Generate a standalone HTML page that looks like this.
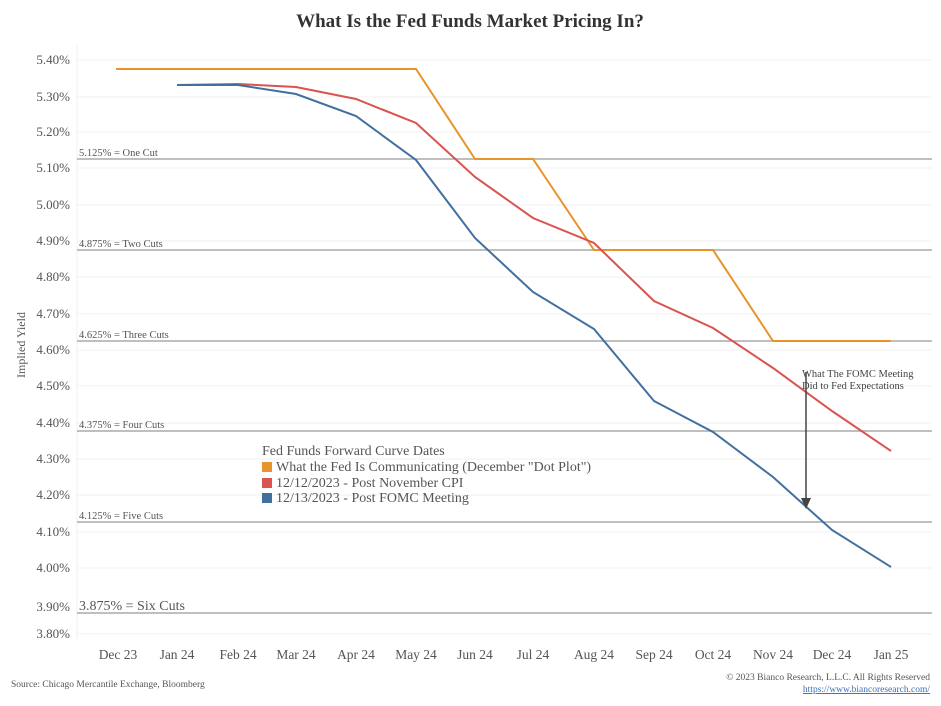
<!DOCTYPE html>
<html><head><meta charset="utf-8"><style>
html,body{margin:0;padding:0;background:#fff;}
svg{display:block;font-family:"Liberation Serif",serif;}
</style></head><body>
<svg width="941" height="706" viewBox="0 0 941 706" xmlns="http://www.w3.org/2000/svg">
<rect width="941" height="706" fill="#fff"/>
<text x="470" y="27" text-anchor="middle" font-size="19" font-weight="bold" fill="#333">What Is the Fed Funds Market Pricing In?</text>
<g stroke="#f0f0f0" stroke-width="1">
<line x1="77" x2="932" y1="60" y2="60"/><line x1="77" x2="932" y1="97" y2="97"/><line x1="77" x2="932" y1="132" y2="132"/><line x1="77" x2="932" y1="168" y2="168"/><line x1="77" x2="932" y1="205" y2="205"/><line x1="77" x2="932" y1="241" y2="241"/><line x1="77" x2="932" y1="277" y2="277"/><line x1="77" x2="932" y1="314" y2="314"/><line x1="77" x2="932" y1="350" y2="350"/><line x1="77" x2="932" y1="386" y2="386"/><line x1="77" x2="932" y1="423" y2="423"/><line x1="77" x2="932" y1="459" y2="459"/><line x1="77" x2="932" y1="495" y2="495"/><line x1="77" x2="932" y1="532" y2="532"/><line x1="77" x2="932" y1="568" y2="568"/><line x1="77" x2="932" y1="634" y2="634"/>
<line x1="77" x2="77" y1="45" y2="640"/>
</g>
<g font-size="13" fill="#555" text-anchor="end">
<text x="70" y="64">5.40%</text><text x="70" y="101">5.30%</text><text x="70" y="136">5.20%</text><text x="70" y="172">5.10%</text><text x="70" y="209">5.00%</text><text x="70" y="245">4.90%</text><text x="70" y="281">4.80%</text><text x="70" y="318">4.70%</text><text x="70" y="354">4.60%</text><text x="70" y="390">4.50%</text><text x="70" y="427">4.40%</text><text x="70" y="463">4.30%</text><text x="70" y="499">4.20%</text><text x="70" y="536">4.10%</text><text x="70" y="572">4.00%</text><text x="70" y="611">3.90%</text><text x="70" y="638">3.80%</text>
</g>
<text transform="translate(25,345) rotate(-90)" text-anchor="middle" font-size="12" fill="#555">Implied Yield</text>
<g stroke="#aaa" stroke-width="1.5">
<line x1="77" x2="932" y1="159" y2="159"/><line x1="77" x2="932" y1="250" y2="250"/><line x1="77" x2="932" y1="341" y2="341"/><line x1="77" x2="932" y1="431" y2="431"/><line x1="77" x2="932" y1="522" y2="522"/><line x1="77" x2="932" y1="613" y2="613"/>
</g>
<g font-size="10.5" fill="#555">
<text x="79" y="156">5.125% = One Cut</text><text x="79" y="247">4.875% = Two Cuts</text><text x="79" y="338">4.625% = Three Cuts</text><text x="79" y="428">4.375% = Four Cuts</text><text x="79" y="519">4.125% = Five Cuts</text>
<text x="79" y="610" font-size="14">3.875% = Six Cuts</text>
</g>
<polyline fill="none" stroke="#e8942a" stroke-width="2" points="116,69 416,69 475,159 533,159 594,250 713,250 773,341 891,341"/>
<polyline fill="none" stroke="#d9534f" stroke-width="2" points="177,85 238,84 296,87 356,99 416,123 475,177 533,218 594,243 654,301 713,328 773,368 832,411 891,451"/>
<polyline fill="none" stroke="#41709f" stroke-width="2" points="177,85 238,85 296,94 356,116 416,160 475,238 533,292 594,329 654,401 713,432 773,477 832,530 891,567"/>
<line x1="806" y1="372" x2="806" y2="500" stroke="#444" stroke-width="1.5"/>
<polygon points="801,498 811,498 806,509" fill="#444"/>
<g font-size="10.5" fill="#444"><text x="802" y="377">What The FOMC Meeting</text><text x="802" y="389">Did to Fed Expectations</text></g>
<g font-size="14" fill="#555">
<text x="262" y="455">Fed Funds Forward Curve Dates</text>
<rect x="262" y="462" width="10" height="10" fill="#e8942a"/><text x="276" y="471">What the Fed Is Communicating (December "Dot Plot")</text>
<rect x="262" y="478" width="10" height="10" fill="#d9534f"/><text x="276" y="487">12/12/2023 - Post November CPI</text>
<rect x="262" y="493" width="10" height="10" fill="#41709f"/><text x="276" y="502">12/13/2023 - Post FOMC Meeting</text>
</g>
<g font-size="13.5" fill="#555" text-anchor="middle">
<text x="118" y="659">Dec 23</text><text x="177" y="659">Jan 24</text><text x="238" y="659">Feb 24</text><text x="296" y="659">Mar 24</text><text x="356" y="659">Apr 24</text><text x="416" y="659">May 24</text><text x="475" y="659">Jun 24</text><text x="533" y="659">Jul 24</text><text x="594" y="659">Aug 24</text><text x="654" y="659">Sep 24</text><text x="713" y="659">Oct 24</text><text x="773" y="659">Nov 24</text><text x="832" y="659">Dec 24</text><text x="891" y="659">Jan 25</text>
</g>
<text x="11" y="687" font-size="9.5" fill="#555">Source: Chicago Mercantile Exchange, Bloomberg</text>
<text x="930" y="680" font-size="9.5" fill="#555" text-anchor="end">© 2023 Bianco Research, L.L.C. All Rights Reserved</text>
<text x="930" y="692" font-size="9.5" fill="#3a6fb5" text-anchor="end" text-decoration="underline">https://www.biancoresearch.com/</text>
</svg>
</body></html>
